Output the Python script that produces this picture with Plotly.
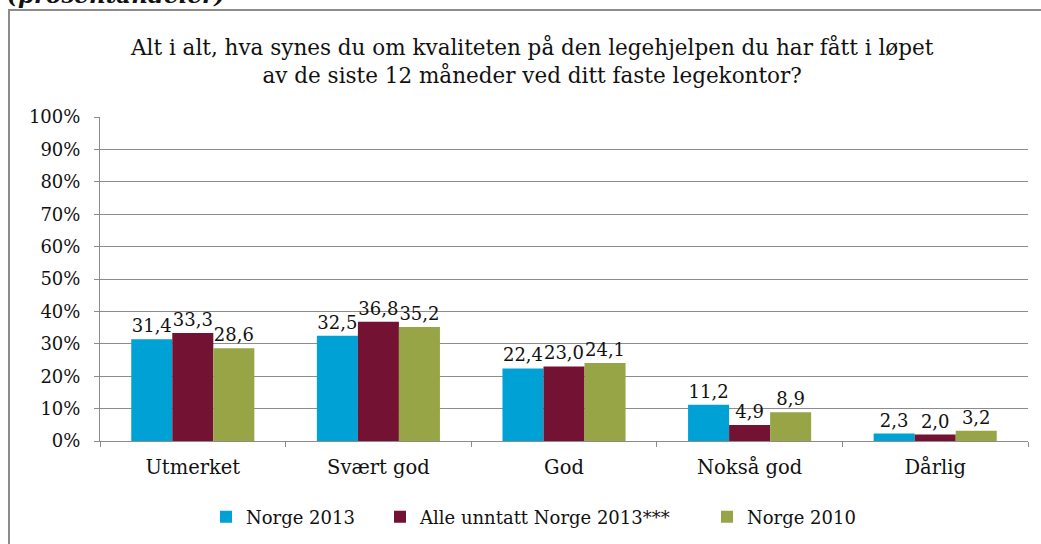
import plotly.graph_objects as go

categories = ["Utmerket", "Svært god", "God", "Nokså god", "Dårlig"]
series_names = ["Norge 2013", "Alle unntatt Norge 2013***", "Norge 2010"]
norge_2013 = [31.4, 32.5, 22.4, 11.2, 2.3]
alle_unntatt = [33.3, 36.8, 23.0, 4.9, 2.0]
norge_2010 = [28.6, 35.2, 24.1, 8.9, 3.2]
colors = ["#00A1D5", "#741233", "#97A546"]
tick_vals = [0, 10, 20, 30, 40, 50, 60, 70, 80, 90, 100]
tick_text = [f"{v}%" for v in tick_vals]
title_text = "Alt i alt, hva synes du om kvaliteten på den legehjelpen du har fått i løpet<br>av de siste 12 måneder ved ditt faste legekontor?"
top_text = "(prosentandeler)"

FONT = "'DejaVu Serif', serif"
W, H = 1041, 544
L, R, T, B = 100, 1028, 117, 441

def px_x(p):
    return (p - L) / (R - L)

def px_y(p):
    return (B - p) / (B - T)

legend_ids = ["legend", "legend2", "legend3"]
legend_px = [206, 380, 707]

fig = go.Figure()
for name, vals, col, lg in zip(series_names, [norge_2013, alle_unntatt, norge_2010], colors, legend_ids):
    fig.add_trace(go.Bar(
        x=categories, y=vals, name=name, legend=lg,
        marker=dict(color=col, line=dict(width=0)),
        text=[f"{v:.1f}".replace(".", ",") for v in vals],
        textposition="outside", cliponaxis=False,
        textfont=dict(family=FONT, size=18, color="#111111"),
    ))

legend_common = dict(orientation="h", xanchor="left", y=px_y(517), yanchor="middle",
                     font=dict(family=FONT, size=18, color="#111111"),
                     bgcolor="rgba(0,0,0,0)", borderwidth=0)
fig.update_layout(
    width=W, height=H,
    margin=dict(l=L, r=W - R, t=T, b=H - B, autoexpand=False),
    paper_bgcolor="white", plot_bgcolor="white",
    barmode="group", bargap=0.337, bargroupgap=0,
    font=dict(family=FONT, color="#111111"),
    showlegend=True,
    legend=dict(x=px_x(legend_px[0]), **legend_common),
    legend2=dict(x=px_x(legend_px[1]), **legend_common),
    legend3=dict(x=px_x(legend_px[2]), **legend_common),
)
fig.update_yaxes(range=[0, 100], tickvals=tick_vals, ticktext=tick_text,
                 showgrid=True, gridcolor="#8c8c8c", gridwidth=1,
                 showline=True, linecolor="#8c8c8c", linewidth=1,
                 ticks="outside", ticklen=5, tickcolor="#8c8c8c", ticklabelstandoff=10,
                 tickfont=dict(family=FONT, size=18, color="#111111"), zeroline=False)
fig.update_xaxes(showline=True, linecolor="#8c8c8c", linewidth=1,
                 ticks="outside", ticklen=5, tickcolor="#8c8c8c", tickson="boundaries",
                 ticklabelstandoff=9,
                 tickfont=dict(family=FONT, size=19.5, color="#111111"), showgrid=False)

fig.add_annotation(text=title_text, xref="paper", yref="paper", x=px_x(532), y=px_y(61),
                   xanchor="center", yanchor="middle", showarrow=False,
                   font=dict(family=FONT, size=21.5, color="#111111"))
fig.add_annotation(text=f"<b><i>{top_text}</i></b>", xref="paper", yref="paper",
                   x=px_x(5), y=px_y(10), xanchor="left", yanchor="bottom", showarrow=False,
                   font=dict(family=FONT, size=23, color="#111111"))
fig.add_shape(type="rect", xref="paper", yref="paper",
              x0=px_x(9), x1=px_x(1060), y0=px_y(10), y1=px_y(600),
              line=dict(color="#8c8c8c", width=2), fillcolor="rgba(0,0,0,0)", layer="below")

fig.write_html("out.html", config={"displayModeBar": False},
               post_script="document.body.style.margin='0';")
